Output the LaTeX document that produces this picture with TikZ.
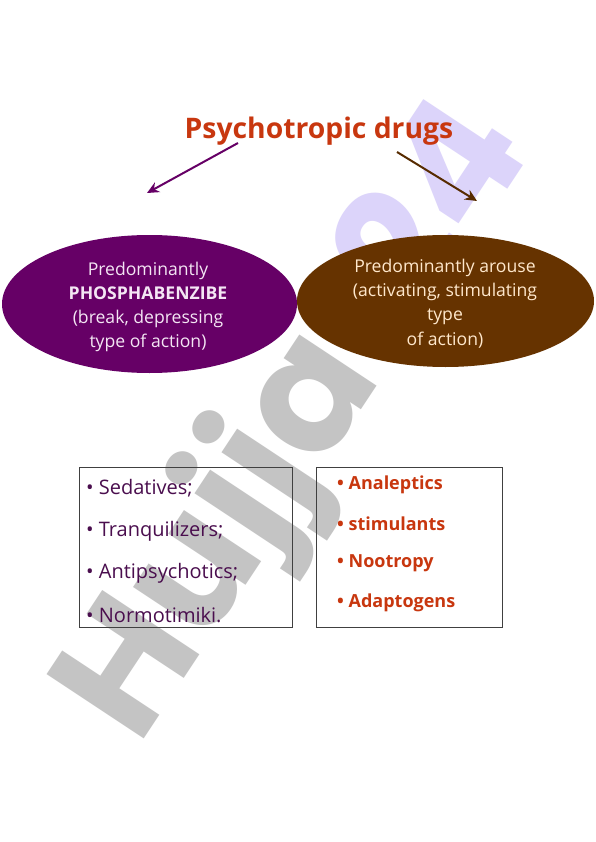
\documentclass[tikz,border=0pt]{standalone}
\usepackage{fontspec}
\setmainfont{Open Sans}
\newfontfamily\wmfont{Poppins}
\usetikzlibrary{shapes.geometric,arrows.meta}
\definecolor{purp}{HTML}{660066}
\definecolor{brwn}{HTML}{663300}
\definecolor{titlered}{HTML}{C8370F}
\definecolor{listpurp}{HTML}{4A0E4E}
\definecolor{lpink}{HTML}{F4E6F4}
\definecolor{cream}{HTML}{FFE8CC}
\definecolor{wmgray}{HTML}{C4C4C4}
\definecolor{wmlav}{HTML}{DCD4FA}
\definecolor{boxline}{HTML}{404040}
\tikzset{
  oval/.style={ellipse, inner sep=0pt, draw=none},
  ovaltext/.style={align=center, inner sep=0pt, font=\fontsize{17.6}{24.2}\selectfont},
  listbox/.style={draw=boxline, line width=0.8pt, fill=none},
  leftitem/.style={anchor=west, inner sep=0pt, text=listpurp, font=\fontsize{20}{22}\selectfont},
  rightitem/.style={anchor=west, inner sep=0pt, text=titlered, font=\fontsize{18}{20}\selectfont\bfseries},
  arr/.style={line width=2pt, -{Stealth[length=12pt,width=11pt,inset=4pt]}},
}
\begin{document}
\begin{tikzpicture}[x=1pt,y=-1pt]
\useasboundingbox (0,0) rectangle (596,842);
\fill[white] (0,0) rectangle (596,842);
% watermark (beneath)
\node[anchor=base west, inner sep=0pt, rotate=56.5, font=\fontsize{166}{166}\wmfont\bfseries] (wm) at (138,748) {\textcolor{wmgray}{Hujjat}\textcolor{wmlav}{24}};
% title
\node[inner sep=0pt, text=titlered, font=\fontsize{28.3}{30}\selectfont\bfseries] (title) at (319,131) {Psychotropic drugs};
% arrows
\coordinate (ls) at (238,143);
\coordinate (le) at (147,193);
\coordinate (rs) at (397,152);
\coordinate (re) at (477,201);
\draw[arr, draw=purp] (ls) -- (le);
\draw[arr, draw=brwn!85!black] (rs) -- (re);
% ellipses
\node[oval, fill=purp, minimum width=295pt, minimum height=138pt] (lov) at (149.5,304) {};
\node[oval, fill=brwn, minimum width=297pt, minimum height=132pt] (rov) at (445.5,301) {};
\node[ovaltext, text=lpink] (lovt) at (148,307) {Predominantly\\\textbf{PHOSPHABENZIBE}\\(break, depressing\\ type of action)};
\node[ovaltext, text=cream] (rovt) at (445,303.5) {Predominantly arouse\\(activating, stimulating\\type\\of action)};
% boxes
\draw[listbox] (79,467) rectangle (292,627);
\draw[listbox] (316,467) rectangle (502,627);
\node[leftitem] (l1) at (86,488) {• Sedatives;};
\node[leftitem] (l2) at (86,531) {• Tranquilizers;};
\node[leftitem] (l3) at (86,573) {• Antipsychotics;};
\node[leftitem] (l4) at (86,615) {• Normotimiki.};
\node[rightitem] (r1) at (337,485) {• Analeptics};
\node[rightitem] (r2) at (337,524) {• stimulants};
\node[rightitem] (r3) at (337,563) {• Nootropy};
\node[rightitem] (r4) at (337,603) {• Adaptogens};
\end{tikzpicture}
\end{document}
